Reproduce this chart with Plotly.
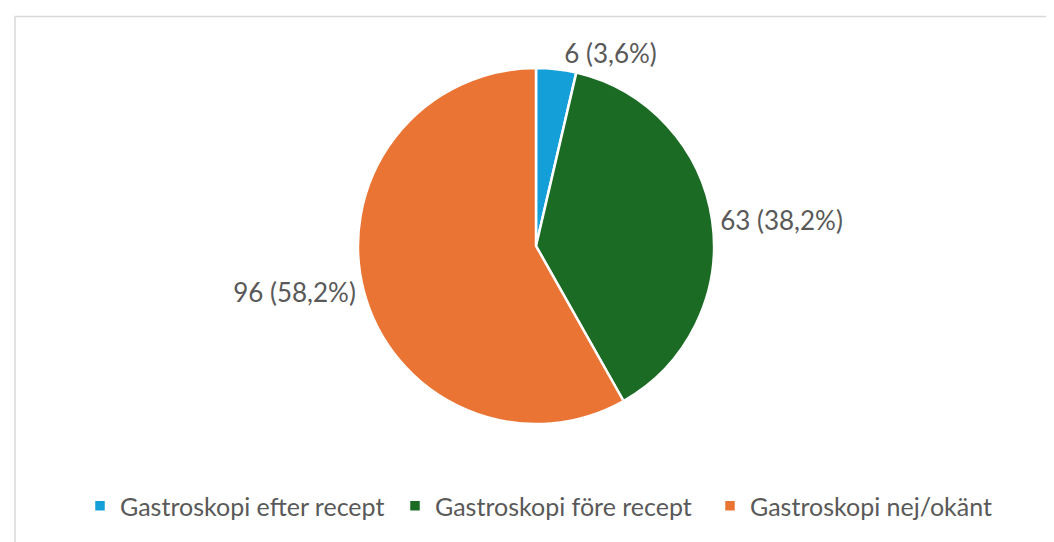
import plotly.graph_objects as go

# data
labels = ["Gastroskopi efter recept", "Gastroskopi före recept", "Gastroskopi nej/okänt"]
values = [6, 63, 96]
colors = ["#159FD9", "#1C6B25", "#EA7434"]

W, H = 1054, 542
cx, cy, r = 528, 238, 178  # domain placement (plotly renders it slightly offset)

fig = go.Figure()
fig.add_trace(go.Pie(
    labels=labels, values=values, sort=False, direction="clockwise", rotation=0,
    marker=dict(colors=colors, line=dict(color="white", width=2.5)),
    texttemplate="%{value} (%{percent:.1%})", textposition="outside",
    textfont=dict(size=26, color="#595959"),
    domain=dict(x=[(cx - r) / W, (cx + r) / W], y=[(H - cy - r) / H, (H - cy + r) / H]),
    hoverinfo="label+value+percent",
))

fig.update_layout(
    width=W, height=H, margin=dict(l=0, r=0, t=0, b=0),
    paper_bgcolor="white", separators=", ",
    font=dict(family="Lato, Open Sans, sans-serif", color="#595959"),
    showlegend=True,
    legend=dict(orientation="h", x=72 / W, xanchor="left", y=44 / H, yanchor="middle",
                font=dict(size=25, color="#595959"), itemwidth=30, traceorder="normal",
                entrywidth=270),
    shapes=[dict(type="rect", xref="paper", yref="paper", x0=7 / W, x1=1.02, y0=-0.02, y1=1 - 8.5 / H,
                 line=dict(color="#D9D9D9", width=1.5), layer="below")],
)

fig.write_html("out.html")
